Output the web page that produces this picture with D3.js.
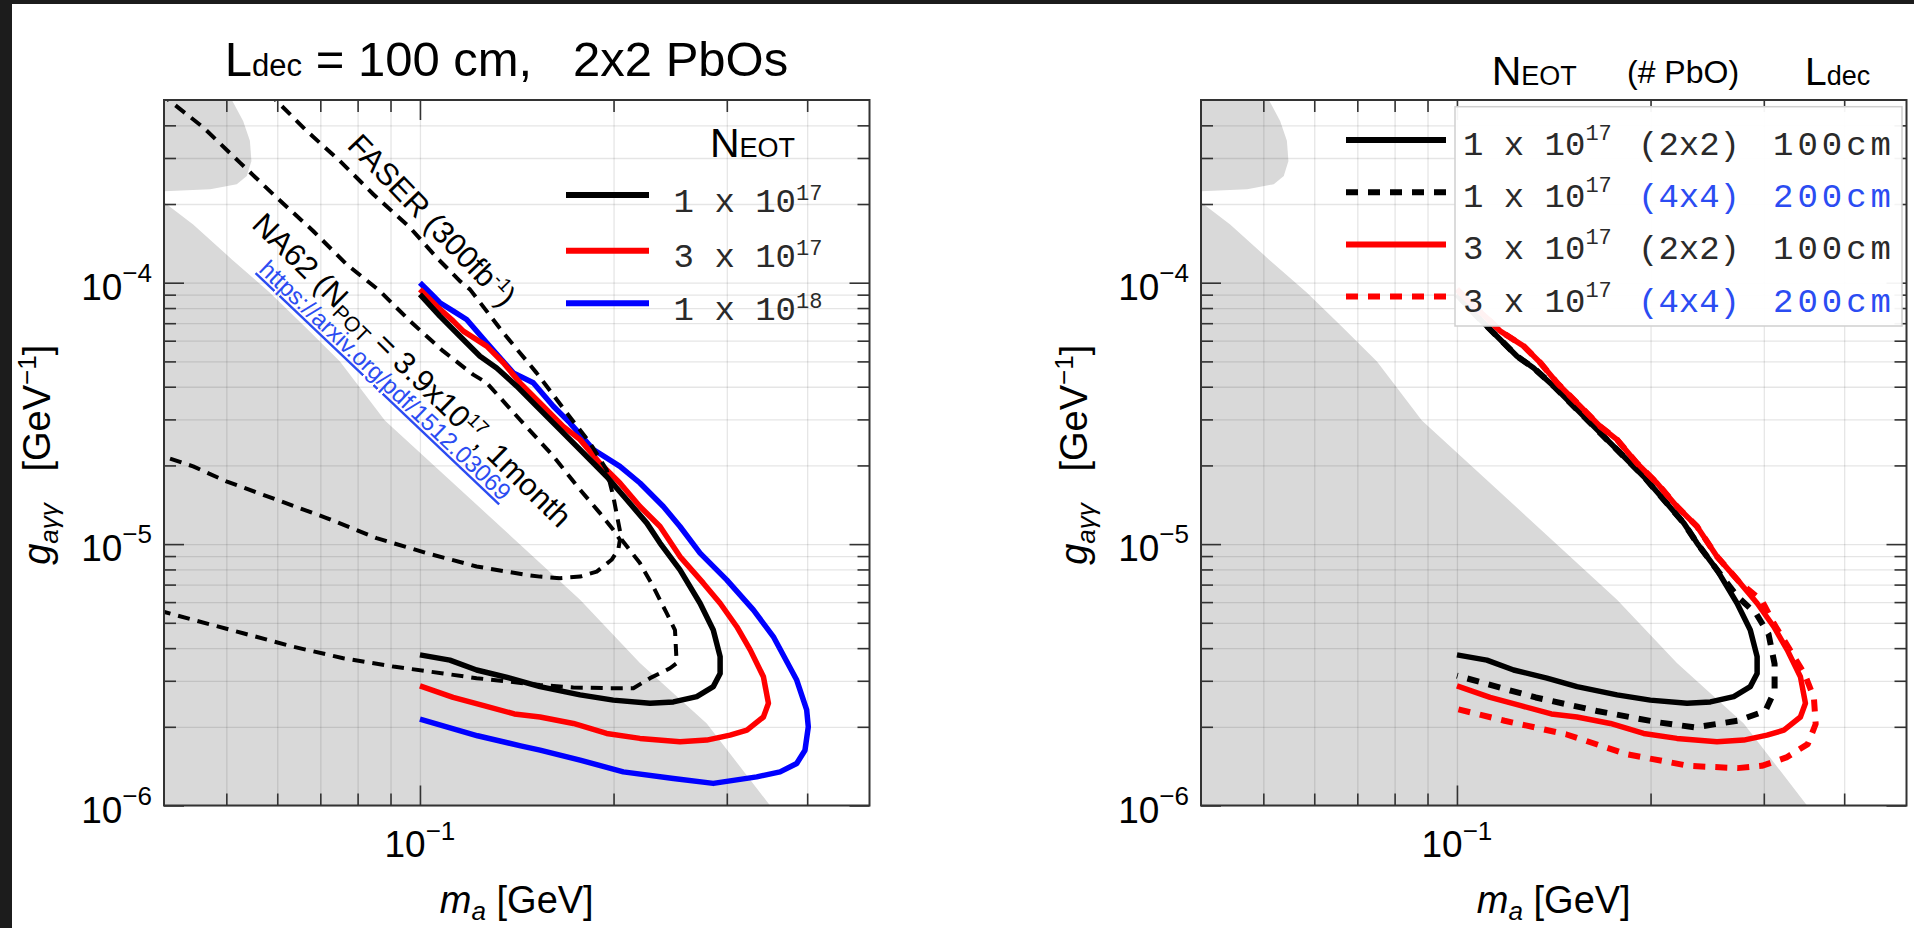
<!DOCTYPE html>
<html>
<head>
<meta charset="utf-8">
<script src="https://cdn.jsdelivr.net/npm/d3@7"></script>
<style>
  html, body { margin: 0; padding: 0; background: #fff; }
  svg { display: block; }
  text { font-family: "Liberation Sans", Arial, sans-serif; fill: #000; }
  .mono { font-family: "Liberation Mono", "Courier New", monospace; }
</style>
</head>
<body>
<svg id="chart" width="1914" height="928"></svg>
<script>
// axis ranges and ticks
var massRange = [0.04, 0.5]
var couplingRange = [1e-6, 5e-4]
var massMajorTicks = [0.1]
var massMinorTicks = [0.05, 0.06, 0.07, 0.08, 0.09, 0.2, 0.3, 0.4]
var couplingMajorTicks = [1e-6, 1e-5, 1e-4]
var couplingMinorTicks = [2e-6, 3e-6, 4e-6, 5e-6, 6e-6, 7e-6, 8e-6, 9e-6,
  2e-5, 3e-5, 4e-5, 5e-5, 6e-5, 7e-5, 8e-5, 9e-5, 2e-4, 3e-4, 4e-4]

// excluded regions (grey), [m_a GeV, g GeV^-1]
var beamDumpBlob = [[0.04, 5e-4], [0.0510, 5e-4], [0.0531, 4.16e-4], [0.0544, 3.49e-4], [0.0547, 2.92e-4],
  [0.0538, 2.56e-4], [0.0519, 2.38e-4], [0.0472, 2.28e-4], [0.04, 2.24e-4]]
var beamDumpRegion = [[0.04, 2.03e-4], [0.0444, 1.67e-4], [0.0510, 1.228e-4], [0.0584, 9.18e-5], [0.0662, 6.80e-5],
  [0.0751, 4.99e-5], [0.0882, 2.97e-5], [0.1240, 1.377e-5], [0.1774, 6.12e-6], [0.2198, 3.51e-6],
  [0.2792, 2.06e-6], [0.3502, 1e-6], [0.04, 1e-6]]

// other experiments (dashed)
var na62 = [[0.0394, 5.32e-4], [0.04603, 3.93e-4], [0.0525, 2.88e-4], [0.05987, 2.117e-4], [0.06823, 1.577e-4],
  [0.07692, 1.175e-4], [0.08665, 9.29e-5], [0.0965, 7.13e-5], [0.1087, 5.47e-5], [0.1210, 4.45e-5],
  [0.1270, 4.14e-5], [0.1431, 2.99e-5], [0.1612, 2.17e-5], [0.1774, 1.614e-5], [0.1905, 1.314e-5],
  [0.1998, 1.135e-5], [0.2046, 1.039e-5], [0.2034, 9.51e-6], [0.1986, 8.71e-6], [0.1883, 7.85e-6],
  [0.1774, 7.51e-6], [0.1651, 7.41e-6], [0.1537, 7.51e-6], [0.1465, 7.62e-6], [0.1225, 8.21e-6],
  [0.1024, 9.24e-6], [0.0856, 1.054e-5], [0.0716, 1.258e-5], [0.0599, 1.478e-5], [0.0500, 1.738e-5],
  [0.0444, 1.983e-5], [0.0394, 2.19e-5]]
var faser = [[0.058, 5.36e-4], [0.05987, 4.96e-4], [0.06665, 3.81e-4], [0.07509, 2.92e-4], [0.08462, 2.18e-4],
  [0.0965, 1.625e-4], [0.1062, 1.247e-4], [0.1154, 1.014e-4], [0.1196, 9.43e-5], [0.1348, 6.43e-5],
  [0.1518, 4.52e-5], [0.1691, 3.18e-5], [0.1838, 2.44e-5], [0.1951, 1.926e-5], [0.1998, 1.522e-5],
  [0.2059, 1.039e-5], [0.2198, 8.46e-6], [0.2305, 6.88e-6], [0.2419, 5.44e-6], [0.2492, 4.69e-6],
  [0.2507, 3.50e-6], [0.2448, 3.35e-6], [0.2279, 3.07e-6], [0.2147, 2.81e-6], [0.1951, 2.81e-6],
  [0.1732, 2.83e-6], [0.1537, 2.89e-6], [0.1225, 3.07e-6], [0.1087, 3.20e-6], [0.0909, 3.40e-6],
  [0.0760, 3.66e-6], [0.0635, 4.05e-6], [0.0531, 4.56e-6], [0.0444, 5.13e-6], [0.0394, 5.56e-6]]

// sensitivity curves
var eot1e17 = [[0.1, 9.02e-5], [0.1074, 7.45e-5], [0.1154, 6.24e-5], [0.1240, 5.23e-5], [0.1316, 4.72e-5],
  [0.1414, 4.02e-5], [0.1518, 3.37e-5], [0.1651, 2.74e-5], [0.1795, 2.23e-5], [0.1951, 1.815e-5],
  [0.2097, 1.478e-5], [0.2253, 1.203e-5], [0.2362, 1.009e-5], [0.2537, 7.97e-6], [0.2726, 5.94e-6],
  [0.2858, 4.69e-6], [0.2929, 3.71e-6], [0.2929, 3.20e-6], [0.2858, 2.85e-6], [0.2694, 2.61e-6],
  [0.2478, 2.49e-6], [0.2279, 2.46e-6], [0.1998, 2.53e-6], [0.1774, 2.65e-6], [0.1537, 2.85e-6],
  [0.1380, 3.07e-6], [0.1225, 3.30e-6], [0.1113, 3.60e-6], [0.1, 3.77e-6]]
var eot3e17 = [[0.1, 9.43e-5], [0.1062, 8.13e-5], [0.1127, 7.13e-5], [0.1168, 6.53e-5], [0.1270, 5.72e-5],
  [0.1348, 4.94e-5], [0.1431, 4.14e-5], [0.1555, 3.37e-5], [0.1670, 2.82e-5], [0.1774, 2.51e-5],
  [0.1905, 2.04e-5], [0.2046, 1.713e-5], [0.2198, 1.393e-5], [0.2362, 1.168e-5], [0.2537, 8.96e-6],
  [0.2758, 7.09e-6], [0.2929, 5.94e-6], [0.3109, 4.83e-6], [0.3262, 3.94e-6], [0.3420, 3.11e-6],
  [0.3482, 2.46e-6], [0.3420, 2.18e-6], [0.3224, 1.943e-6], [0.3035, 1.859e-6], [0.2792, 1.779e-6],
  [0.2537, 1.752e-6], [0.2198, 1.806e-6], [0.1951, 1.887e-6], [0.1732, 2.06e-6], [0.1537, 2.18e-6],
  [0.1402, 2.24e-6], [0.1257, 2.41e-6], [0.1126, 2.59e-6], [0.1, 2.87e-6]]
var eot1e18 = [[0.1, 1.0e-4], [0.1049, 8.89e-5], [0.1074, 8.38e-5], [0.1127, 7.78e-5], [0.1182, 7.23e-5],
  [0.1270, 5.89e-5], [0.1397, 4.52e-5], [0.1500, 4.14e-5], [0.1612, 3.37e-5], [0.1711, 2.91e-5],
  [0.1860, 2.30e-5], [0.2046, 1.983e-5], [0.2198, 1.713e-5], [0.2390, 1.393e-5], [0.2537, 1.168e-5],
  [0.2726, 9.24e-6], [0.2999, 7.30e-6], [0.3299, 5.60e-6], [0.3543, 4.43e-6], [0.3853, 3.02e-6],
  [0.3993, 2.32e-6], [0.4016, 2.00e-6], [0.3969, 1.628e-6], [0.3853, 1.448e-6], [0.3630, 1.345e-6],
  [0.3339, 1.287e-6], [0.2858, 1.215e-6], [0.2478, 1.269e-6], [0.2071, 1.345e-6], [0.1774, 1.491e-6],
  [0.1537, 1.628e-6], [0.1434, 1.691e-6], [0.1229, 1.848e-6], [0.1, 2.14e-6]]
var eot1e17Long = [[0.1, 9.02e-5], [0.1074, 7.45e-5], [0.1154, 6.24e-5], [0.1240, 5.23e-5], [0.1316, 4.72e-5],
  [0.1414, 4.02e-5], [0.1518, 3.37e-5], [0.1651, 2.74e-5], [0.1795, 2.23e-5], [0.1951, 1.815e-5],
  [0.2097, 1.478e-5], [0.2253, 1.203e-5], [0.2362, 1.009e-5], [0.2537, 7.97e-6], [0.2733, 6.28e-6],
  [0.2920, 5.41e-6], [0.3051, 4.53e-6], [0.3118, 3.48e-6], [0.3118, 2.75e-6], [0.3017, 2.30e-6],
  [0.2733, 2.11e-6], [0.2344, 1.99e-6], [0.2056, 2.08e-6], [0.1651, 2.30e-6], [0.1326, 2.59e-6],
  [0.1112, 2.92e-6], [0.1, 3.14e-6]]
var eot3e17Long = [[0.1, 9.43e-5], [0.1062, 8.13e-5], [0.1127, 7.13e-5], [0.1168, 6.53e-5], [0.1270, 5.72e-5],
  [0.1348, 4.94e-5], [0.1431, 4.14e-5], [0.1555, 3.37e-5], [0.1670, 2.82e-5], [0.1774, 2.51e-5],
  [0.1905, 2.04e-5], [0.2046, 1.713e-5], [0.2198, 1.393e-5], [0.2362, 1.168e-5], [0.2537, 8.96e-6],
  [0.2758, 7.09e-6], [0.2979, 6.08e-6], [0.3112, 4.95e-6], [0.3323, 3.80e-6], [0.3472, 3.18e-6],
  [0.3589, 2.59e-6], [0.3612, 2.05e-6], [0.3511, 1.717e-6], [0.3253, 1.527e-6], [0.2979, 1.418e-6],
  [0.2730, 1.390e-6], [0.2291, 1.418e-6], [0.1839, 1.570e-6], [0.1477, 1.873e-6], [0.1186, 2.11e-6],
  [0.1, 2.34e-6]]

// legend labels
var leftLegendCounts = ['1 x 10', '3 x 10', '1 x 10']
var leftLegendExps = ['17', '17', '18']
var rightLegendCounts = ['1 x 10', '1 x 10', '3 x 10', '3 x 10']
var rightLegendExps = ['17', '17', '17', '17']
var rightLegendPbO = ['(2x2)', '(4x4)', '(2x2)', '(4x4)']
var rightLegendLdec = ['100cm', '200cm', '100cm', '200cm']

var svg = d3.select('#chart')
var defs = svg.append('defs')

svg.append('rect').attr('width', 1914).attr('height', 928).attr('fill', '#fff')
svg.append('rect').attr('width', 1914).attr('height', 4).attr('fill', '#1c1c1c')
svg.append('rect').attr('width', 12).attr('height', 928).attr('fill', '#1c1c1c')

var TOP = 100, BOTTOM = 805.5, WIDTH = 705.5
var RED = '#ff0000', BLUE = '#0000ff', LINKBLUE = '#2b4cf2'

function panel(left, id) {
  var right = left + WIDTH
  var x = d3.scaleLog().domain(massRange).range([left, right])
  var y = d3.scaleLog().domain(couplingRange).range([BOTTOM, TOP])
  var line = d3.line().x(function (d) { return x(d[0]) }).y(function (d) { return y(d[1]) })

  defs.append('clipPath').attr('id', id).append('rect')
    .attr('x', left).attr('y', TOP).attr('width', WIDTH).attr('height', BOTTOM - TOP)

  var g = svg.append('g')
  var fills = g.append('g').attr('clip-path', 'url(#' + id + ')')
  var grid = g.append('g')
  var curves = g.append('g').attr('clip-path', 'url(#' + id + ')')
  var axes = g.append('g')

  fills.append('path').attr('d', line(beamDumpBlob) + 'Z').attr('fill', '#d9d9d9')
  fills.append('path').attr('d', line(beamDumpRegion) + 'Z').attr('fill', '#d9d9d9')

  // grid lines on every tick
  grid.append('g').attr('transform', 'translate(0,' + BOTTOM + ')')
    .call(d3.axisBottom(x).tickValues(massMajorTicks.concat(massMinorTicks)).tickSize(-(BOTTOM - TOP)).tickFormat(''))
  grid.append('g').attr('transform', 'translate(' + left + ',0)')
    .call(d3.axisLeft(y).tickValues(couplingMajorTicks.concat(couplingMinorTicks)).tickSize(-WIDTH).tickFormat(''))
  grid.selectAll('.domain').remove()
  grid.selectAll('line').attr('stroke', '#000').attr('stroke-opacity', 0.1).attr('stroke-width', 1.3)

  // inward ticks on all four sides
  var sides = [
    [d3.axisBottom, x, 'translate(0,' + BOTTOM + ')', massMajorTicks, massMinorTicks],
    [d3.axisTop, x, 'translate(0,' + TOP + ')', massMajorTicks, massMinorTicks],
    [d3.axisLeft, y, 'translate(' + left + ',0)', couplingMajorTicks, couplingMinorTicks],
    [d3.axisRight, y, 'translate(' + right + ',0)', couplingMajorTicks, couplingMinorTicks]
  ]
  sides.forEach(function (s) {
    [[s[3], 20], [s[4], 12]].forEach(function (t) {
      var a = axes.append('g').attr('transform', s[2])
        .call(s[0](s[1]).tickValues(t[0]).tickSize(-t[1]).tickFormat(''))
      a.select('.domain').remove()
      a.selectAll('line').attr('stroke', '#333').attr('stroke-width', 1.6)
    })
  })
  axes.append('rect').attr('x', left).attr('y', TOP).attr('width', WIDTH).attr('height', BOTTOM - TOP)
    .attr('fill', 'none').attr('stroke', '#333').attr('stroke-width', 2)

  // tick labels
  couplingMajorTicks.forEach(function (v) {
    var t = axes.append('text').attr('x', left - 12).attr('y', y(v) + 17)
      .attr('text-anchor', 'end').style('font-size', '37px')
    t.append('tspan').text('10')
    t.append('tspan').attr('dy', -18).style('font-size', '26px')
      .text('\u2212' + Math.abs(Math.round(Math.log10(v))))
  })
  massMajorTicks.forEach(function (v) {
    var t = axes.append('text').attr('x', x(v)).attr('y', BOTTOM + 51.5)
      .attr('text-anchor', 'middle').style('font-size', '37px')
    t.append('tspan').text('10')
    t.append('tspan').attr('dy', -17).style('font-size', '26px')
      .text('\u2212' + Math.abs(Math.round(Math.log10(v))))
  })

  // axis titles
  var xt = axes.append('text').attr('x', left + WIDTH / 2).attr('y', 913)
    .attr('text-anchor', 'middle').style('font-size', '38px')
  xt.append('tspan').style('font-style', 'italic').text('m')
  xt.append('tspan').style('font-style', 'italic').style('font-size', '26px').attr('dy', 7).text('a')
  xt.append('tspan').attr('dy', -7).text('\u00a0[GeV]')

  var yt = axes.append('text').attr('transform', 'translate(' + (left - 114) + ',' + ((TOP + BOTTOM) / 2 + 2) + ') rotate(-90)')
    .attr('text-anchor', 'middle').style('font-size', '38px')
  yt.append('tspan').style('font-style', 'italic').text('g')
  yt.append('tspan').style('font-style', 'italic').style('font-size', '26px').attr('dy', 8).text('a\u03b3\u03b3')
  yt.append('tspan').attr('dy', -8).text('\u00a0\u00a0\u00a0[GeV')
  yt.append('tspan').attr('dy', -14).style('font-size', '26px').text('\u22121')
  yt.append('tspan').attr('dy', 14).text(']')

  return { x: x, y: y, line: line, curves: curves, axes: axes, g: g }
}

function drawCurve(p, data, color, width, dash) {
  p.curves.append('path').attr('d', p.line(data))
    .attr('fill', 'none').attr('stroke', color).attr('stroke-width', width)
    .attr('stroke-linejoin', 'round')
    .attr('stroke-dasharray', dash || null)
}

// ---------- left panel ----------
var L = panel(164, 'clipL')
drawCurve(L, eot1e18, BLUE, 5.5)
drawCurve(L, eot3e17, RED, 5.5)
drawCurve(L, eot1e17, '#000', 5.5)
drawCurve(L, na62, '#000', 4, '12,8')
drawCurve(L, faser, '#000', 4, '12,8')

var title = svg.append('text').attr('x', 506.5).attr('y', 76).attr('text-anchor', 'middle').style('font-size', '49px')
title.append('tspan').text('L')
title.append('tspan').style('font-size', '31px').text('dec')
title.append('tspan').text('\u00a0=\u00a0100\u00a0cm,\u00a0\u00a0\u00a02x2\u00a0PbOs')

var faserText = L.curves.append('text').attr('transform', 'translate(354,139) rotate(46)')
  .attr('y', 11).style('font-size', '31px')
faserText.append('tspan').text('FASER (300fb')
faserText.append('tspan').attr('dy', -12).style('font-size', '19px').text('-1')
faserText.append('tspan').attr('dy', 12).text(')')

var na62Text = L.curves.append('text').attr('transform', 'translate(258.3,218.3) rotate(44.5)')
  .attr('y', 11).style('font-size', '31px')
na62Text.append('tspan').text('NA62 (N')
na62Text.append('tspan').attr('dy', 6).style('font-size', '21px').text('POT')
na62Text.append('tspan').attr('dy', -6).text(' = 3.9x10')
na62Text.append('tspan').attr('dy', -12).style('font-size', '19px').text('17')
na62Text.append('tspan').attr('dy', 12).text(', 1month')

L.curves.append('text').attr('transform', 'translate(263.3,265) rotate(43.5)')
  .attr('y', 8).style('font-size', '24px').style('fill', LINKBLUE)
  .style('text-decoration', 'underline')
  .text('https://arxiv.org/pdf/1512.03069')

// left legend
var leftColors = ['#000', RED, BLUE]
var lh = svg.append('text').attr('x', 710).attr('y', 156.7)
lh.append('tspan').style('font-size', '41px').text('N')
lh.append('tspan').style('font-size', '27px').text('EOT')
leftLegendCounts.forEach(function (c, i) {
  var ly = [195, 250.7, 303.3][i]
  svg.append('line').attr('x1', 566).attr('x2', 649).attr('y1', ly).attr('y2', ly)
    .attr('stroke', leftColors[i]).attr('stroke-width', 6)
  var t = svg.append('text').attr('class', 'mono').attr('x', 673.6).attr('y', ly + 16.7)
    .style('font-size', '34px').style('fill', '#2a2a2a')
  t.append('tspan').text(c)
  t.append('tspan').attr('dy', -12).style('font-size', '22px').text(leftLegendExps[i])
})

// ---------- right panel ----------
var R = panel(1201, 'clipR')
drawCurve(R, eot1e17, '#000', 5.5)
drawCurve(R, eot1e17Long, '#000', 6, '12,10')
drawCurve(R, eot3e17, RED, 5.5)
drawCurve(R, eot3e17Long, RED, 6, '12,10')

// right legend
R.axes.append('rect').attr('x', 1455).attr('y', 106.7).attr('width', 447).attr('height', 219.3)
  .attr('fill', '#fff').attr('fill-opacity', 0.95).attr('stroke', '#cfcfcf').attr('stroke-width', 1.5)
var rightColors = ['#000', '#000', RED, RED]
var rightDash = [null, '12,10', null, '12,10']
var rightTextColor = ['#2a2a2a', LINKBLUE, '#2a2a2a', LINKBLUE]
rightLegendCounts.forEach(function (c, i) {
  var ly = 140 + i * 52.2
  R.axes.append('line').attr('x1', 1346).attr('x2', 1446).attr('y1', ly).attr('y2', ly)
    .attr('stroke', rightColors[i]).attr('stroke-width', 6).attr('stroke-dasharray', rightDash[i])
  var t = R.axes.append('text').attr('class', 'mono').attr('x', 1463).attr('y', ly + 15)
    .style('font-size', '34px').style('fill', '#2a2a2a')
  t.append('tspan').text(c)
  t.append('tspan').attr('dy', -15).style('font-size', '22px').text(rightLegendExps[i])
  R.axes.append('text').attr('class', 'mono').attr('x', 1638).attr('y', ly + 15)
    .style('font-size', '34px').style('fill', rightTextColor[i]).text(rightLegendPbO[i])
  R.axes.append('text').attr('class', 'mono').attr('x', 1773).attr('y', ly + 15)
    .attr('textLength', 118).attr('lengthAdjust', 'spacing')
    .style('font-size', '34px').style('fill', rightTextColor[i]).text(rightLegendLdec[i])
})

var rh = svg.append('g')
var n = rh.append('text').attr('x', 1491.7).attr('y', 85)
n.append('tspan').style('font-size', '41px').text('N')
n.append('tspan').style('font-size', '27px').text('EOT')
rh.append('text').attr('x', 1627).attr('y', 83).style('font-size', '32px').text('(# PbO)')
var ld = rh.append('text').attr('x', 1805).attr('y', 85)
ld.append('tspan').style('font-size', '39px').text('L')
ld.append('tspan').style('font-size', '27px').text('dec')
</script>
</body>
</html>
